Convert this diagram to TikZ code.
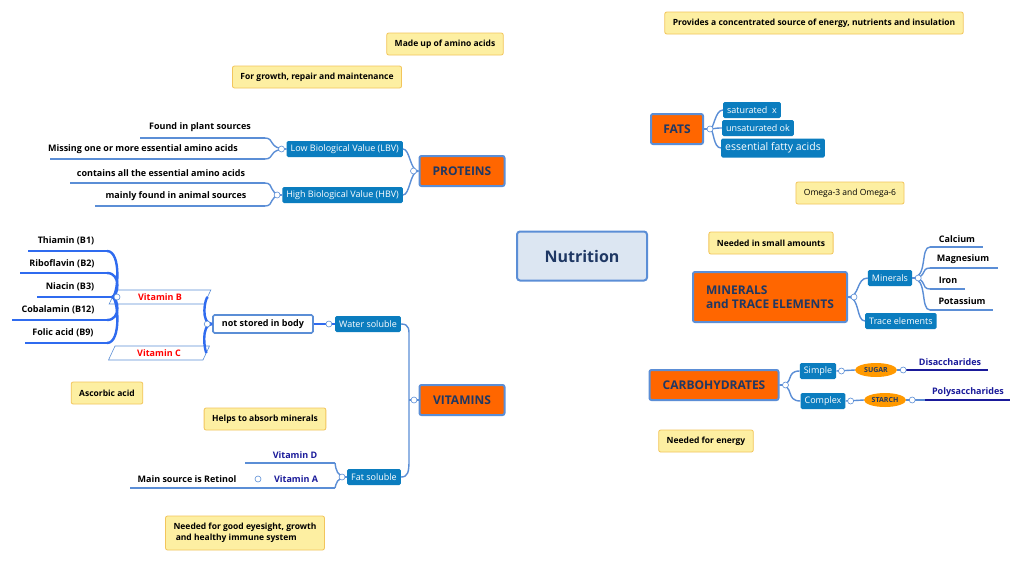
\documentclass[tikz,border=0pt]{standalone}
\usepackage{fontspec}
\setmainfont{Open Sans}
\usetikzlibrary{positioning,backgrounds,shapes.geometric,calc}
\definecolor{topicor}{HTML}{FF6600}
\definecolor{topictx}{HTML}{1F3864}
\definecolor{rootfill}{HTML}{DCE6F2}
\definecolor{edgeblue}{HTML}{5B8ED6}
\definecolor{subblue}{HTML}{0B7DBF}
\definecolor{callfill}{HTML}{FDEFA2}
\definecolor{callline}{HTML}{F2C55C}
\definecolor{vitblue}{HTML}{2F6BEF}
\definecolor{navy}{HTML}{1A1A9A}
\tikzset{
  root/.style={draw=edgeblue,line width=2pt,fill=rootfill,rounded corners=3pt,
    minimum width=130,minimum height=49,font=\fontsize{16}{18}\selectfont\bfseries,text=topictx},
  topic/.style={draw=edgeblue,line width=2pt,fill=topicor,rounded corners=2pt,
    minimum height=30,inner xsep=8,font=\fontsize{12}{14}\selectfont\bfseries,text=topictx},
  sub/.style={fill=subblue,text=white,rounded corners=1.5pt,minimum height=16,inner xsep=4,inner ysep=1,
    font=\fontsize{9}{10}\selectfont},
  callout/.style={draw=callline,line width=0.8pt,fill=callfill,rounded corners=2pt,minimum height=22,
    inner xsep=8,font=\fontsize{8.5}{11}\selectfont\bfseries,align=left},
  leaf/.style={font=\fontsize{9}{10}\selectfont\bfseries,inner sep=1},
  leafline/.style={edgeblue,line width=1.4pt},
  branch/.style={edgeblue,line width=1.4pt},
  trunk/.style={edgeblue,line width=2.6pt},
  vitb/.style={vitblue,line width=2.4pt},
  knob/.style={draw=edgeblue,fill=white,line width=0.6pt},
  vit/.style={trapezium,trapezium left angle=65,trapezium right angle=115,draw=edgeblue,fill=white,
    line width=0.6pt,minimum width=64,minimum height=14,inner sep=0,font=\fontsize{9}{10}\selectfont\bfseries,text=red},
  oval/.style={ellipse,fill=orange!80!yellow,minimum width=42,minimum height=14,inner sep=0,
    font=\fontsize{7}{8}\selectfont\bfseries,text=topictx}
}
\newcommand{\pointer}[3]{%
  \begin{pgfonlayer}{background}
  \fill[callfill,draw=callline,line width=0.8pt] ($(#1)+(-#3,0)$) -- (#2) -- ($(#1)+(#3,0)$) -- cycle;
  \end{pgfonlayer}}
\begin{document}
\begin{tikzpicture}[x=1pt,y=-1pt]
\useasboundingbox[fill=white] (0,0) rectangle (1024,565);
% root and topics
\node[root] (nut) at (582,256) {Nutrition};
\node[topic,minimum width=85] (prot) at (462,171) {PROTEINS};
\node[topic,minimum width=52] (fats) at (677,129) {FATS};
\node[topic,minimum width=154,minimum height=50,align=left] (min) at (770,297) {MINERALS\\and TRACE ELEMENTS};
\node[topic,minimum width=129] (carb) at (714,385) {CARBOHYDRATES};
\node[topic,minimum width=85] (vits) at (462,400) {VITAMINS};
\begin{pgfonlayer}{background}
\draw[trunk] (560,231) .. controls (550,185) and (530,171) .. (prot.east);
\draw[trunk] (605,231) .. controls (615,150) and (630,129) .. (fats.west);
\draw[trunk] (640,281) .. controls (655,297) and (670,297) .. (min.west);
\draw[trunk] (600,281) .. controls (615,370) and (630,385) .. (carb.west);
\draw[trunk] (555,281) .. controls (545,380) and (525,400) .. (vits.east);
\end{pgfonlayer}
% fats
\node[sub] (sat) at (752,110) {saturated\ \ x};
\node[sub] (unsat) at (758,128) {unsaturated ok};
\node[sub,font=\fontsize{10.5}{12}\selectfont,minimum height=19] (efa) at (773,148) {essential fatty acids};
\coordinate (fatsK) at ($(fats.east)+(6,0)$);
\foreach \s in {sat,unsat,efa}
  \draw[branch] (fatsK) .. controls (714,129) and ([xshift=-8]\s.west) .. (\s.west);
\draw[branch] (fats.east) -- (fatsK);
\fill[knob] (fatsK) circle (3);
% proteins
\node[sub,anchor=east] (lbv) at (403,149) {Low Biological Value (LBV)};
\node[sub,anchor=east] (hbv) at (403,195) {High Biological Value (HBV)};
\draw[branch] (prot.west) .. controls (410,171) and (410,149) .. (lbv.east);
\draw[branch] (prot.west) .. controls (410,171) and (410,195) .. (hbv.east);
\fill[knob] ($(prot.west)+(-5,0)$) circle (3);
\node[leaf] (plant) at (200,127) {Found in plant sources};
\node[leaf] (missing) at (143,149) {Missing one or more essential amino acids};
\node[leaf] (allaa) at (161,173) {contains all the essential amino acids};
\node[leaf] (animal) at (176,196) {mainly found in animal sources};
\coordinate (plantE) at (265,138); \coordinate (missingE) at (265,159);
\coordinate (allaaE) at (265,183); \coordinate (animalE) at (265,206);
\draw[leafline] (140,138) -- (plantE);
\draw[leafline] (50,159) -- (missingE);
\draw[leafline] (70,183) -- (allaaE);
\draw[leafline] (95,206) -- (animalE);
\draw[branch] (lbv.west) .. controls (268,149) and (275,138) .. (plantE);
\draw[branch] (lbv.west) .. controls (268,149) and (275,159) .. (missingE);
\draw[branch] (hbv.west) .. controls (268,195) and (275,183) .. (allaaE);
\draw[branch] (hbv.west) .. controls (268,195) and (275,206) .. (animalE);
\fill[knob] ($(lbv.west)+(-5,0)$) circle (3);
\fill[knob] ($(hbv.west)+(-5,0)$) circle (3);
% minerals
\node[sub] (minr) at (890,278) {Minerals};
\node[sub,anchor=west] (trace) at (865,321) {Trace elements};
\draw[branch] (min.east) .. controls (860,297) and (856,278) .. (minr.west);
\draw[branch] (min.east) .. controls (860,297) and (856,321) .. (trace.west);
\fill[knob] ($(min.east)+(6,0)$) circle (3);
\node[leaf] (calc) at (957,239) {Calcium};
\node[leaf] (magn) at (963,259) {Magnesium};
\node[leaf] (iron) at (948,280) {Iron};
\node[leaf] (pota) at (962,301) {Potassium};
\coordinate (calcW) at (930,247); \coordinate (magnW) at (930,268);
\coordinate (ironW) at (930,289); \coordinate (potaW) at (930,310);
\draw[leafline] (calcW) -- (983,247);
\draw[leafline] (magnW) -- (998,268);
\draw[leafline] (ironW) -- (965,289);
\draw[leafline] (potaW) -- (993,310);
\foreach \c in {calcW,magnW,ironW,potaW}
  \draw[branch] (minr.east) .. controls (928,278) and ([xshift=-10]\c) .. (\c);
\fill[knob] ($(minr.east)+(6,0)$) circle (3);
% carbohydrates
\node[sub] (simple) at (818,371) {Simple};
\node[sub] (complex) at (823,401) {Complex};
\draw[branch] (carb.east) .. controls (795,385) and (785,371) .. (simple.west);
\draw[branch] (carb.east) .. controls (795,385) and (785,401) .. (complex.west);
\fill[knob] ($(carb.east)+(6,0)$) circle (3);
\node[oval] (sugar) at (876,370) {SUGAR};
\node[oval] (starch) at (885,400) {STARCH};
\draw[branch] (simple.east) -- (sugar.west);
\draw[branch] (complex.east) -- (starch.west);
\node[leaf,text=navy] (disac) at (950,362) {Disaccharides};
\node[leaf,text=navy] (polys) at (968,392) {Polysaccharides};
\coordinate (disacW) at (905,370); \coordinate (polysW) at (925,400);
\draw[navy,line width=1.6pt] (disacW) -- (988,370);
\draw[navy,line width=1.6pt] (polysW) -- (1010,400);
\draw[branch] (sugar.east) -- (disacW);
\draw[branch] (starch.east) -- (polysW);
\fill[knob] ($(sugar.east)+(6,0)$) circle (3);
\fill[knob] ($(starch.east)+(6,0)$) circle (3);
\fill[knob] ($(simple.east)+(5,0)$) circle (3);
\fill[knob] ($(complex.east)+(5,0)$) circle (3);
% vitamins
\node[sub] (water) at (368,324) {Water soluble};
\node[sub] (fatsol) at (374,477) {Fat soluble};
\draw[branch] (vits.west) -- (409,400);
\draw[branch] (water.east) .. controls (410,324) and (409,330) .. (409,340) -- (409,460)
  .. controls (409,472) and (408,477) .. (fatsol.east);
\fill[knob] (414,400) circle (3);
\node[draw=edgeblue,line width=1.6pt,fill=white,rounded corners=1.5pt,minimum width=100,minimum height=18,
  inner sep=1,font=\fontsize{9}{10}\selectfont\bfseries] (notst) at (263,324) {not stored in body};
\draw[vitb] (notst.east) -- (water.west);
\fill[knob] ($(water.west)+(-6,0)$) circle (3);
\node[vit] (vitb) at (160,297) {Vitamin B};
\node[vit] (vitc) at (159,353) {Vitamin C};
\draw[vitb] (notst.west) .. controls (200,324) and (205,297) .. (vitb.east);
\draw[vitb] (notst.west) .. controls (200,324) and (205,353) .. (vitc.east);
\fill[knob] ($(notst.west)+(-5,0)$) circle (3);
\node[leaf] (thia) at (66,241) {Thiamin (B1)};
\node[leaf] (ribo) at (62,264) {Riboflavin (B2)};
\node[leaf] (niac) at (70,287) {Niacin (B3)};
\node[leaf] (coba) at (58,310) {Cobalamin (B12)};
\node[leaf] (foli) at (63,333) {Folic acid (B9)};
\coordinate (thiaE) at (107,251); \coordinate (riboE) at (107,273); \coordinate (niacE) at (116,297);
\coordinate (cobaE) at (107,320); \coordinate (foliE) at (107,343);
\draw[vitb,line width=1.4pt] (28,251) -- (thiaE);
\draw[vitb,line width=1.4pt] (20,273) -- (riboE);
\draw[vitb,line width=1.4pt] (37,297) -- (niacE);
\draw[vitb,line width=1.4pt] (12,320) -- (cobaE);
\draw[vitb,line width=1.4pt] (25,343) -- (foliE);
\foreach \c in {thiaE,riboE,cobaE,foliE}
  \draw[vitb] (vitb.west) .. controls (118,297) and ([xshift=15]\c) .. (\c);
\draw[vitb] (vitb.west) -- (niacE);
\fill[knob] (117,297) circle (3);
\node[leaf,text=navy] (vitd) at (295,455) {Vitamin D};
\node[leaf,text=navy] (vita) at (296,479) {Vitamin A};
\coordinate (vitdW) at (245,463); \coordinate (vitaW) at (245,488);
\draw[leafline] (vitdW) -- (335,463);
\draw[leafline] (vitaW) -- (335,488);
\draw[branch] (fatsol.west) .. controls (337,477) and (336,470) .. (335,463);
\draw[branch] (fatsol.west) .. controls (337,477) and (336,484) .. (335,488);
\fill[knob] ($(fatsol.west)+(-5,0)$) circle (3);
\node[leaf] (retin) at (187,479) {Main source is Retinol};
\coordinate (retinE) at (245,488);
\draw[leafline] (130,488) -- (retinE);
\fill[knob] (258,479) circle (3);
% callouts
\node[callout] (cfats) at (814,23) {Provides a concentrated source of energy, nutrients and insulation};
\pointer{cfats.south}{692,116}{6}
\node[callout] (camino) at (445,44) {Made up of amino acids};
\pointer{camino.south}{462,158}{6}
\node[callout] (cgrowth) at (317,77) {For growth, repair and maintenance};
\pointer{cgrowth.south}{440,158}{8}
\node[callout,font=\fontsize{8.5}{11}\selectfont] (comega) at (850,193) {Omega-3 and Omega-6};
\pointer{comega.north}{782,155}{6}
\node[callout] (csmall) at (771,243) {Needed in small amounts};
\pointer{csmall.south}{772,275}{6}
\node[callout] (cenergy) at (706,441) {Needed for energy};
\pointer{cenergy.north}{713,400}{6}
\node[callout] (cascorb) at (107,393) {Ascorbic acid};
\pointer{cascorb.north}{152,358}{6}
\node[callout] (cabsorb) at (265,419) {Helps to absorb minerals};
\pointer{cabsorb.south}{294,447}{6}
\node[callout,minimum height=34] (ceye) at (245,533) {Needed for good eyesight, growth\\ \ and healthy immune system};
\pointer{ceye.north}{300,487}{7}
\end{tikzpicture}
\end{document}
